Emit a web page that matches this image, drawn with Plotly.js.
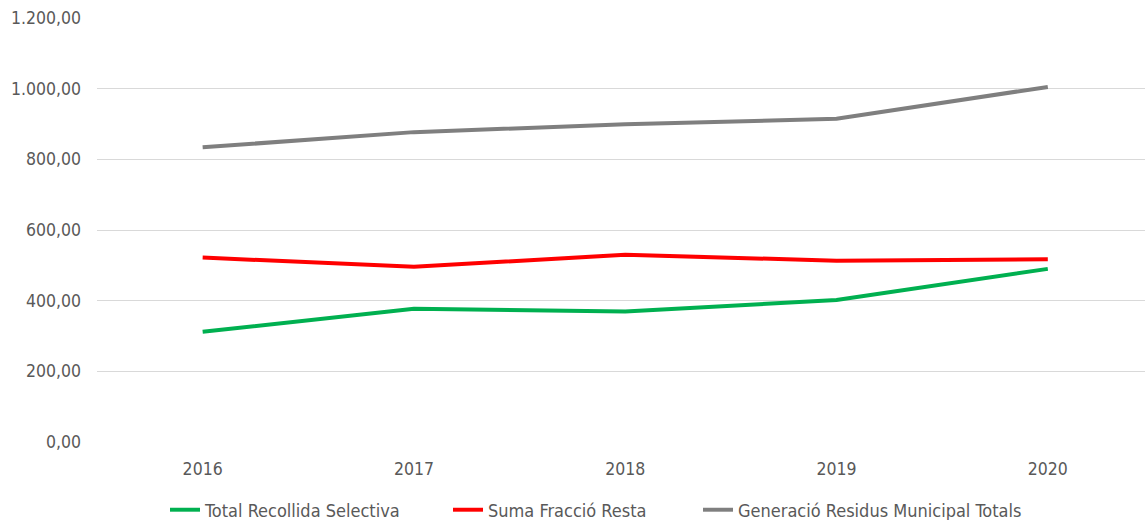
<!DOCTYPE html>
<html><head><meta charset="utf-8">
<script src="https://cdn.plot.ly/plotly-3.0.1.min.js"></script>
<style>html,body{margin:0;padding:0;background:#fff;}#chart{width:1145px;height:520px;}</style>
</head><body><div id="chart"></div>
<script>
const years = ['2016','2017','2018','2019','2020'];
const seriesNames = ['Total Recollida Selectiva','Suma Fracció Resta','Generació Residus Municipal Totals'];
const recollidaSelectiva = [312, 377, 369, 402, 490];
const fraccioResta = [522, 496, 530, 513, 517];
const residusTotals = [834, 877, 899, 915, 1005];
const yTicks = [0, 200, 400, 600, 800, 1000, 1200];

const colors = ['#00b050', '#ff0000', '#7f7f7f'];
const legendIds = ['legend', 'legend2', 'legend3'];
const values = [recollidaSelectiva, fraccioResta, residusTotals];
const traces = values.map((v, i) => ({
  x: years, y: v, type: 'scatter', mode: 'lines', name: seriesNames[i],
  legend: legendIds[i],
  line: {color: colors[i], width: 4}
}));

const fontFam = '"DejaVu Sans Condensed", "Liberation Sans Narrow", "Liberation Sans", sans-serif';
const legendBase = (xpx) => ({orientation: 'h', xref: 'container', yref: 'container', x: xpx / 1145, xanchor: 'left',
  y: 10 / 520, yanchor: 'middle', font: {size: 18, color: '#595959'}, itemwidth: 30, bgcolor: 'rgba(0,0,0,0)'});
const layout = {
  width: 1145, height: 520,
  margin: {l: 97, r: 0, t: 18, b: 78},
  paper_bgcolor: '#fff', plot_bgcolor: '#fff',
  separators: ',.',
  font: {family: fontFam, size: 17, color: '#595959'},
  xaxis: {type: 'category', range: [-0.5, 4.46], showgrid: false, zeroline: false, showline: false,
          automargin: false, ticks: '', ticklabelstandoff: 14, tickfont: {size: 17.5, color: '#595959'}},
  yaxis: {range: [0, 1200], tickvals: yTicks, tickformat: ',.2f', showgrid: true, gridcolor: '#d9d9d9', gridwidth: 1,
          automargin: false, zeroline: false, showline: false, ticks: '', ticklabelstandoff: 15, tickfont: {size: 17.5, color: '#595959'}},
  showlegend: true,
  legend: legendBase(165),
  legend2: legendBase(448),
  legend3: legendBase(698)
};
Plotly.newPlot('chart', traces, layout, {staticPlot: true});
</script></body></html>
